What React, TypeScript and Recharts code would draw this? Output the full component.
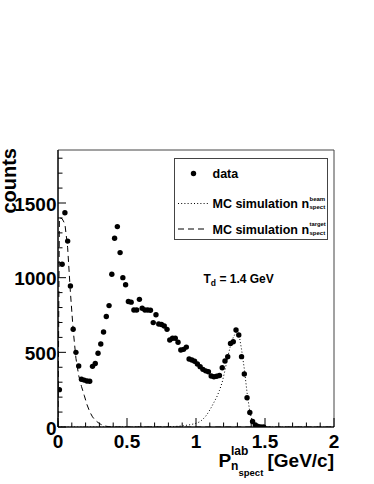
import React from 'react';
import { ComposedChart, Scatter, Line, XAxis, YAxis, ReferenceArea, Legend } from 'recharts';

// measured spectator momentum, bin centres in GeV/c
const P_BINS = [
  0.01, 0.03, 0.05, 0.07, 0.09, 0.11, 0.13, 0.15, 0.17, 0.19,
  0.21, 0.23, 0.25, 0.27, 0.29, 0.31, 0.33, 0.35, 0.37, 0.39,
  0.41, 0.43, 0.45, 0.47, 0.49, 0.51, 0.53, 0.55, 0.57, 0.59,
  0.61, 0.63, 0.65, 0.67, 0.69, 0.71, 0.73, 0.75, 0.77, 0.79,
  0.81, 0.83, 0.85, 0.87, 0.89, 0.91, 0.93, 0.95, 0.97, 0.99,
  1.01, 1.03, 1.05, 1.07, 1.09, 1.11, 1.13, 1.15, 1.17, 1.19,
  1.21, 1.23, 1.25, 1.27, 1.29, 1.31, 1.33, 1.35, 1.37, 1.39,
  1.41, 1.43, 1.45, 1.47, 1.49,
];
const DATA_COUNTS = [
  250, 1090, 1435, 1245, 945, 655, 500, 408, 320, 314,
  308, 306, 406, 425, 494, 556, 636, 740, 813, 1023,
  1264, 1342, 1168, 1000, 953, 840, 836, 784, 784, 855,
  795, 784, 784, 782, 699, 752, 690, 686, 676, 654,
  583, 594, 594, 568, 516, 520, 535, 455, 449, 440,
  422, 404, 386, 376, 370, 342, 337, 340, 345, 397,
  442, 471, 560, 571, 650, 616, 471, 355, 196, 97,
  37, 13, 3, 0, 0,
];

// MC, target spectator
const MC_TARGET_P = [0, 0.01, 0.03, 0.05, 0.07, 0.09, 0.11, 0.13, 0.15, 0.17, 0.19, 0.21, 0.23, 0.25, 0.27, 0.29, 0.31, 0.33, 0.35, 0.37, 0.39, 2.0];
const MC_TARGET_COUNTS = [0, 1400, 1395, 1360, 1200, 900, 650, 460, 345, 272, 212, 150, 102, 68, 45, 30, 18, 9, 5, 2, 0, 0];

// MC, beam spectator
const MC_BEAM_P = [0, 0.79, 0.83, 0.87, 0.91, 0.95, 0.99, 1.01, 1.03, 1.05, 1.07, 1.09, 1.11, 1.13, 1.15, 1.17, 1.19, 1.21, 1.23, 1.25, 1.27, 1.29, 1.31, 1.33, 1.35, 1.37, 1.39, 1.41, 1.43, 1.45, 1.47, 2.0];
const MC_BEAM_COUNTS = [0, 1, 3, 5, 9, 14, 22, 28, 36, 52, 72, 98, 130, 165, 200, 245, 300, 380, 470, 545, 600, 635, 630, 520, 390, 230, 100, 35, 10, 3, 0, 0];

const X_TICKS = [0, 0.1, 0.2, 0.3, 0.4, 0.5, 0.6, 0.7, 0.8, 0.9, 1, 1.1, 1.2, 1.3, 1.4, 1.5, 1.6, 1.7, 1.8, 1.9, 2];
const X_MAJOR = [0, 0.5, 1, 1.5, 2];
const Y_TICKS = [0, 100, 200, 300, 400, 500, 600, 700, 800, 900, 1000, 1100, 1200, 1300, 1400, 1500, 1600, 1700, 1800];
const Y_MAJOR = [0, 500, 1000, 1500];
const Y_MAX = 1855;

const FONT = '"Liberation Sans", Arial, Helvetica, sans-serif';

const PLOT_LEFT = 58;
const PLOT_BOTTOM = 427;

const dataPoints = P_BINS.map((p, i) => ({ p, counts: DATA_COUNTS[i] }));
const targetPoints = MC_TARGET_P.map((p, i) => ({ p, counts: MC_TARGET_COUNTS[i] }));
const beamPoints = MC_BEAM_P.map((p, i) => ({ p, counts: MC_BEAM_COUNTS[i] }));

const isMajor = (list: number[], v: number) => list.some((m) => Math.abs(m - v) < 1e-6);

// ROOT style: ticks point into the frame, labels outside
const XTick = (props: any) => {
  const { x, payload } = props;
  const y = PLOT_BOTTOM;
  const major = isMajor(X_MAJOR, payload.value);
  return (
    <g>
      <line x1={x} x2={x} y1={y} y2={y - (major ? 9 : 4.5)} stroke="#000" strokeWidth={1} />
      {major && (
        <text x={x} y={y + 21} textAnchor="middle" fontFamily={FONT} fontWeight="bold" fontSize={19} fill="#000">
          {String(payload.value)}
        </text>
      )}
    </g>
  );
};

const YTick = (props: any) => {
  const { y, payload } = props;
  const x = PLOT_LEFT;
  const major = isMajor(Y_MAJOR, payload.value);
  return (
    <g>
      <line x1={x} x2={x + (major ? 8 : 4.5)} y1={y} y2={y} stroke="#000" strokeWidth={1} />
      {major && (
        <text x={x - 1.5} y={y + 7.5} textAnchor="end" fontFamily={FONT} fontWeight="bold" fontSize={19} fill="#000">
          {String(payload.value)}
        </text>
      )}
    </g>
  );
};

const XTitle = () => {
  const right = 334;
  const base = PLOT_BOTTOM;
  return (
    <g fontFamily={FONT} fontWeight="bold" fill="#000">
      <text x={right - 115.5} y={base + 40} fontSize={19}>P</text>
      <text x={right - 103} y={base + 28} fontSize={12}>lab</text>
      <text x={right - 103} y={base + 43} fontSize={12}>n</text>
      <text x={right - 95.5} y={base + 48.5} fontSize={9.5}>spect</text>
      <text x={right} y={base + 40} fontSize={19} textAnchor="end">[GeV/c]</text>
    </g>
  );
};

const YTitle = () => {
  const x = 16;
  const y = 148;
  return (
    <text
      x={x}
      y={y}
      transform={`rotate(-90, ${x}, ${y})`}
      textAnchor="end"
      fontFamily={FONT}
      fontWeight="bold"
      fontSize={20}
      fill="#000"
    >
      counts
    </text>
  );
};

// legend box, energy note and axis titles, drawn in page coordinates
const LegendBox = () => (
  <svg width={374} height={484} style={{ display: 'block' }}>
    <g fontFamily={FONT} fontWeight="bold" fill="#000">
      <rect x={174.5} y={158.5} width={153} height={81} fill="#fff" stroke="#444" strokeWidth={1} />
      <circle cx={193.5} cy={173.5} r={2.7} fill="#000" />
      <text x={212.5} y={178} fontSize={12.5}>data</text>

      <line x1={178} x2={208} y1={203.5} y2={203.5} stroke="#000" strokeWidth={1} strokeDasharray="1 2.2" />
      <text x={212.5} y={208} fontSize={12.5}>MC simulation n</text>
      <text x={309.5} y={200.5} fontSize={6}>beam</text>
      <text x={309.5} y={209} fontSize={6}>spect</text>

      <line x1={178} x2={208} y1={229} y2={229} stroke="#000" strokeWidth={1} strokeDasharray="6 4" />
      <text x={212.5} y={233.5} fontSize={12.5}>MC simulation n</text>
      <text x={309.5} y={226} fontSize={5.8}>target</text>
      <text x={309.5} y={234.5} fontSize={6}>spect</text>

      <text x={203.5} y={283} fontSize={12}>
        T<tspan fontSize={8.5} dy={3}>d</tspan>
        <tspan dy={-3}> = 1.4 GeV</tspan>
      </text>
    </g>
    <XTitle />
    <YTitle />
  </svg>
);

const renderDot = (props: any) => <circle cx={props.cx} cy={props.cy} r={2.7} fill="#000" />;

const App: React.FC = () => {
  return (
    <div style={{ position: 'absolute', left: 0, top: 0, width: 374, height: 484, background: '#fff' }}>
      <ComposedChart width={374} height={484} margin={{ top: 150, right: 40, bottom: 0, left: 0 }}>
        <XAxis
          type="number"
          dataKey="p"
          domain={[0, 2]}
          ticks={X_TICKS}
          interval={0}
          height={57}
          tickSize={0}
          tickMargin={0}
          tickLine={false}
          tick={XTick}
          axisLine={{ stroke: '#000', strokeWidth: 1.2 }}
          allowDataOverflow
        />
        <YAxis
          type="number"
          dataKey="counts"
          domain={[0, Y_MAX]}
          ticks={Y_TICKS}
          interval={0}
          width={58}
          tickSize={0}
          tickMargin={0}
          tickLine={false}
          tick={YTick}
          axisLine={{ stroke: '#000', strokeWidth: 1.2 }}
          allowDataOverflow
        />
        <ReferenceArea x1={0} x2={2} y1={0} y2={Y_MAX} fill="none" stroke="#444" strokeWidth={1} />
        <Line
          data={targetPoints}
          dataKey="counts"
          type="linear"
          stroke="#000"
          strokeWidth={1}
          strokeDasharray="6 4"
          dot={false}
          isAnimationActive={false}
        />
        <Line
          data={beamPoints}
          dataKey="counts"
          type="linear"
          stroke="#000"
          strokeWidth={1}
          strokeDasharray="1 2.2"
          dot={false}
          isAnimationActive={false}
        />
        <Scatter data={dataPoints} dataKey="counts" shape={renderDot} isAnimationActive={false} />
        <Legend
          layout="horizontal"
          verticalAlign="middle"
          align="center"
          wrapperStyle={{ left: 0, top: 0, width: 374, height: 484, pointerEvents: 'none' }}
          content={() => <LegendBox />}
        />
      </ComposedChart>
    </div>
  );
};

export default App;
